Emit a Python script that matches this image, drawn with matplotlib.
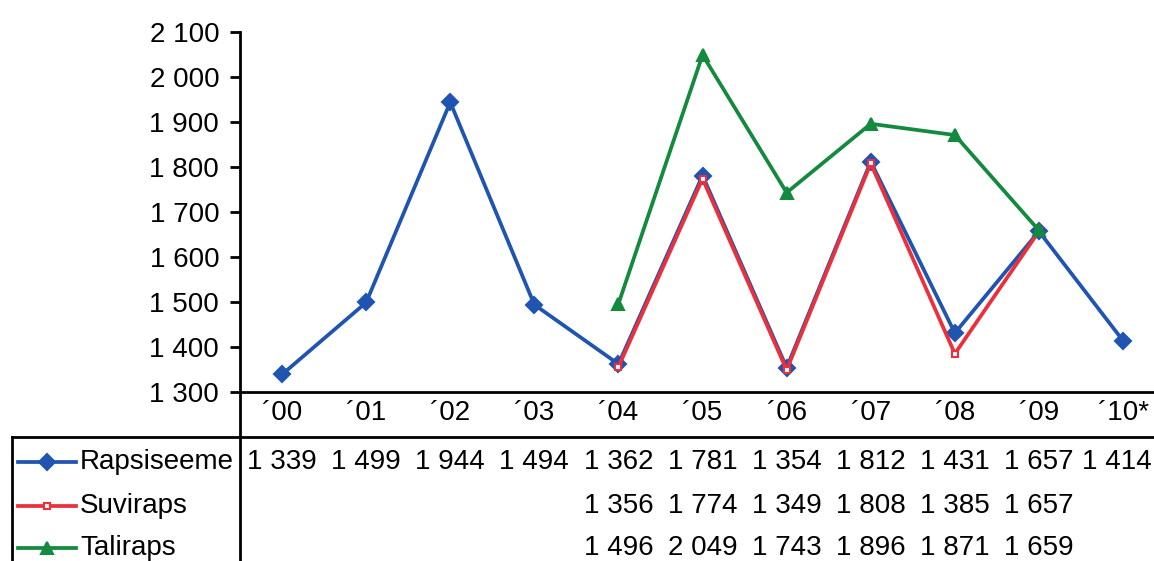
import matplotlib.pyplot as plt
from matplotlib.lines import Line2D

plt.rcParams['font.family'] = ['Liberation Sans', 'DejaVu Sans']

years = ["´00", "´01", "´02", "´03", "´04", "´05", "´06", "´07", "´08", "´09", "´10*"]
rapsiseeme = [1339, 1499, 1944, 1494, 1362, 1781, 1354, 1812, 1431, 1657, 1414]
suviraps = [None, None, None, None, 1356, 1774, 1349, 1808, 1385, 1657, None]
taliraps = [None, None, None, None, 1496, 2049, 1743, 1896, 1871, 1659, None]

series = [
    ("Rapsiseeme", rapsiseeme, "#1f55b0", "D", "#1f55b0", 8),
    ("Suviraps", suviraps, "#ec2f3b", "s", "white", 5),
    ("Taliraps", taliraps, "#138a3e", "^", "#138a3e", 9),
]


def fmt(v):
    return f"{v:,}".replace(",", " ")


W, H = 1154, 561
FS = 20
# plot area: category width 84 px, last column runs past the right edge
CW = 84.1
AX_L, AX_T, AX_B = 240, 32, 392
AX_W = CW * len(years)

fig = plt.figure(figsize=(W / 100, H / 100), dpi=100)
ax = fig.add_axes([AX_L / W, 1 - AX_B / H, AX_W / W, (AX_B - AX_T) / H])

x = list(range(len(years)))
for name, vals, col, mk, fc, ms in series:
    xs = [i for i, v in zip(x, vals) if v is not None]
    ys = [v for v in vals if v is not None]
    ax.plot(xs, ys, color=col, lw=2.7, marker=mk, ms=ms,
            mfc=fc, mec=col, mew=1.5, zorder=3)

ax.set_xlim(-0.5, len(years) - 0.5)
ax.set_ylim(1300, 2100)
ax.set_yticks(range(1300, 2101, 100))
ax.set_yticklabels([fmt(v) for v in range(1300, 2101, 100)])
ax.tick_params(axis='y', length=7, width=2, direction='out', pad=8, labelsize=FS)
ax.set_xticks(x)
ax.set_xticklabels(years)
ax.tick_params(axis='x', length=0, pad=6, labelsize=FS)
for s in ["top", "right"]:
    ax.spines[s].set_visible(False)
ax.spines["left"].set_linewidth(2)
ax.spines["bottom"].set_linewidth(2)


def px(xp, yp):
    return xp / W, 1 - yp / H


# table grid lines
for (x0, y0), (x1, y1) in [((240, 392), (240, H)), ((12, 437), (W, 437)),
                           ((12, 437), (12, H))]:
    a, b = px(x0, y0)
    c, d = px(x1, y1)
    fig.add_artist(Line2D([a, c], [b, d], color="black", lw=2))

# data table rows
row_y = [462, 506, 548]
for (name, vals, col, mk, fc, ms), yp in zip(series, row_y):
    a, b = px(18, yp)
    c, _ = px(76, yp)
    fig.add_artist(Line2D([a, c], [b, b], color=col, lw=2.7))
    m, _ = px(47, yp)
    fig.add_artist(Line2D([m], [b], color=col, marker=mk, ms=ms,
                          mfc=fc, mec=col, mew=1.5, lw=0))
    fig.text(px(80, yp)[0], b, name, fontsize=FS, va="center", ha="left")
    for i, v in enumerate(vals):
        if v is None:
            continue
        if i == len(years) - 1:
            # last column is partly off the figure, keep its value inside
            fig.text((W - 2) / W, b, fmt(v), fontsize=FS, va="center", ha="right")
        else:
            xf = (AX_L + CW * (i + 0.5)) / W
            fig.text(xf, b, fmt(v), fontsize=FS, va="center", ha="center")

fig.savefig("out.png", dpi=100)
